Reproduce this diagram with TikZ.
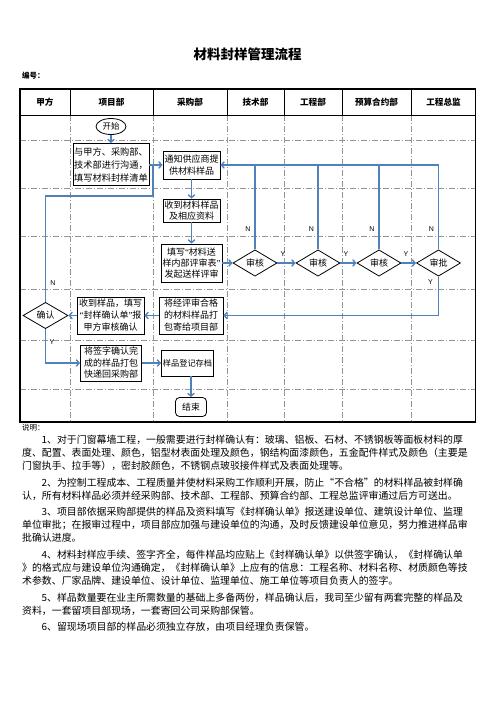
\documentclass[tikz,border=0pt]{standalone}
\usepackage{fontspec}
\setmainfont{Noto Sans CJK SC}
\newfontfamily\lat{Liberation Serif}
\newfontfamily\latsans{Liberation Sans}
\usetikzlibrary{arrows.meta,shapes.geometric}
\definecolor{flow}{RGB}{79,129,189}
\definecolor{gridc}{RGB}{150,150,150}
\tikzset{
  box/.style={draw=black, line width=0.8pt, fill=white, inner sep=0pt, align=center,
              font=\fontsize{9}{12}\selectfont},
  flowline/.style={draw=flow, line width=1.5pt},
  arr/.style={flowline, -{Straight Barb[length=3pt,width=6.5pt,line width=1.3pt]}},
  dia/.style={diamond, draw=black, line width=0.8pt, fill=white, inner sep=0pt,
              minimum width=44pt, minimum height=23pt, font=\fontsize{9}{10}\selectfont},
  yn/.style={font=\latsans\fontsize{7}{8}\selectfont, inner sep=0pt},
  hdr/.style={font=\bfseries\fontsize{8.6}{10}\selectfont, inner sep=0pt},
  gridline/.style={draw=gridc, line width=0.6pt, dash pattern=on 6pt off 2pt on 1pt off 2pt},
  para/.style={anchor=west, inner sep=0pt, font=\fontsize{9.9}{12}\selectfont},
}
\begin{document}
\begin{tikzpicture}[x=1pt,y=-1pt]
\useasboundingbox[fill=white] (0,0) rectangle (496,702);

% title
\node[font=\bfseries\fontsize{13.5}{15}\selectfont, inner sep=0pt] (title) at (247.5,54) {材料封样管理流程};
\node[font=\bfseries\fontsize{7.5}{9}\selectfont, anchor=west, inner sep=0pt] (num) at (22,76) {编号：};

% grid (body)
\foreach \x in {70,153,227,284,342,411}
  \draw[gridline] (\x,115) -- (\x,422);
\foreach \y in {140,188,236,289,340,389}
  \draw[gridline] (20,\y) -- (475.5,\y);
% header
\foreach \x in {70,153,227,284,342,411}
  \draw[line width=0.8pt] (\x,89) -- (\x,115);
\draw[line width=0.8pt] (20,115) -- (475.5,115);
\draw[line width=1.6pt] (20,89) rectangle (475.5,422);

\node[hdr] (h1) at (45,102) {甲方};
\node[hdr] (h2) at (111.5,102) {项目部};
\node[hdr] (h3) at (190,102) {采购部};
\node[hdr] (h4) at (255.5,102) {技术部};
\node[hdr] (h5) at (313,102) {工程部};
\node[hdr] (h6) at (376.5,102) {预算合约部};
\node[hdr] (h7) at (443.5,102) {工程总监};

% nodes
\node[ellipse, draw=black, line width=0.8pt, fill=white, inner sep=0pt,
      minimum width=30pt, minimum height=16pt, font=\fontsize{8.4}{10}\selectfont] (start) at (111,126.5) {开始};
\node[box, minimum width=76pt, minimum height=42pt, font=\fontsize{9.2}{13}\selectfont] (b1) at (111,164.5)
  {与甲方、采购部、\\技术部进行沟通，\\填写材料封样清单};
\node[box, minimum width=57pt, minimum height=28pt] (b2) at (191.5,165) {通知供应商提\\供材料样品};
\node[box, minimum width=57pt, minimum height=23pt, font=\fontsize{9}{11.6}\selectfont] (b3) at (191.5,210.5) {收到材料样品\\及相应资料};
\node[box, minimum width=61pt, minimum height=38pt, font=\fontsize{9}{11.3}\selectfont] (b4) at (191.5,263) {填写{\lat“}材料送\\样内部评审表{\lat”}\\发起送样评审};
\node[dia] (d1) at (255,263) {审核};
\node[dia] (d2) at (318,263) {审核};
\node[dia] (d3) at (379,263) {审核};
\node[dia] (d4) at (438.5,263) {审批};
\node[box, minimum width=64pt, minimum height=37pt] (b5) at (191,315.5) {将经评审合格\\的材料样品打\\包寄给项目部};
\node[box, minimum width=67pt, minimum height=37pt] (b6) at (110.5,315.5) {收到样品，填写\\{\lat“}封样确认单{\lat”}报\\甲方审核确认};
\node[dia, minimum width=45pt, minimum height=24pt] (dc) at (45.5,315.5) {确认};
\node[box, minimum width=61pt, minimum height=36pt, font=\fontsize{9}{11.5}\selectfont] (b7) at (111,363) {将签字确认完\\成的样品打包\\快递回采购部};
\node[box, minimum width=52pt, minimum height=26pt, font=\fontsize{8.2}{10}\selectfont] (b8) at (187.5,363) {样品登记存档};
\node[draw=black, line width=0.8pt, rounded corners=4pt, fill=white, inner sep=0pt,
      minimum width=31pt, minimum height=19pt, font=\fontsize{8.8}{10}\selectfont] (end) at (191,407) {结束};

% connectors
\coordinate (loopc) at (153,196);
\draw[arr] (start) -- (b1);
\draw[flowline] (dc.north) |- (loopc) -- (loopc |- b2.west);
\draw[arr] (b1.east |- b2.west) -- (b2.west);
\draw[arr] (b2) -- (b3);
\draw[arr] (b3) -- (b4);
\draw[arr] (b4) -- (d1);
\draw[arr] (d1) -- (d2);
\draw[arr] (d2) -- (d3);
\draw[arr] (d3) -- (d4);
\draw[flowline] (d1.north) -- (d1.north |- b2.east);
\draw[flowline] (d2.north) -- (d2.north |- b2.east);
\draw[flowline] (d3.north) -- (d3.north |- b2.east);
\draw[arr] (d4.north) |- (b2.east);
\draw[arr] (d4.south) |- (b5.east);
\draw[arr] (b5) -- (b6);
\draw[arr] (b6) -- (dc);
\draw[arr] (dc.south) |- (b7.west);
\draw[arr] (b7) -- (b8);
\draw[arr] (b8.south -| end.north) -- (end.north);

% labels
\node[yn] (n0) at (53,283) {N};
\node[yn] (y0) at (52,342) {Y};
\node[yn] (n1) at (248,229) {N};
\node[yn] (n2) at (311.5,229) {N};
\node[yn] (n3) at (372,229) {N};
\node[yn] (n4) at (431.5,229) {N};
\node[yn] (y1) at (283,254) {Y};
\node[yn] (y2) at (346,254) {Y};
\node[yn] (y3) at (406,254) {Y};
\node[yn] (y4) at (430.5,282) {Y};

% notes
\node[para, font=\fontsize{7.5}{9}\selectfont] (t0) at (22,428) {说明：};
\node[para] (t1) at (41.5,440) {1、对于门窗幕墙工程，一般需要进行封样确认有：玻璃、铝板、石材、不锈钢板等面板材料的厚};
\node[para] (t2) at (22,453) {度、配置、表面处理、颜色，铝型材表面处理及颜色，钢结构面漆颜色，五金配件样式及颜色（主要是};
\node[para] (t3) at (22,466) {门窗执手、拉手等），密封胶颜色，不锈钢点玻驳接件样式及表面处理等。};
\node[para] (t4) at (41.5,483) {2、为控制工程成本、工程质量并使材料采购工作顺利开展，防止“不合格”的材料样品被封样确};
\node[para] (t5) at (22,496) {认，所有材料样品必须并经采购部、技术部、工程部、预算合约部、工程总监评审通过后方可送出。};
\node[para] (t6) at (41.5,512) {3、项目部依据采购部提供的样品及资料填写《封样确认单》报送建设单位、建筑设计单位、监理};
\node[para] (t7) at (22,525) {单位审批；在报审过程中，项目部应加强与建设单位的沟通，及时反馈建设单位意见，努力推进样品审};
\node[para] (t8) at (22,538) {批确认进度。};
\node[para] (t9) at (41.5,555) {4、材料封样应手续、签字齐全，每件样品均应贴上《封样确认单》以供签字确认，《封样确认单};
\node[para] (t10) at (22,568) {》的格式应与建设单位沟通确定，《封样确认单》上应有的信息：工程名称、材料名称、材质颜色等技};
\node[para] (t11) at (22,581) {术参数、厂家品牌、建设单位、设计单位、监理单位、施工单位等项目负责人的签字。};
\node[para] (t12) at (41.5,598) {5、样品数量要在业主所需数量的基础上多备两份，样品确认后，我司至少留有两套完整的样品及};
\node[para] (t13) at (22,611) {资料，一套留项目部现场，一套寄回公司采购部保管。};
\node[para] (t14) at (41.5,627) {6、留现场项目部的样品必须独立存放，由项目经理负责保管。};
\end{tikzpicture}
\end{document}
